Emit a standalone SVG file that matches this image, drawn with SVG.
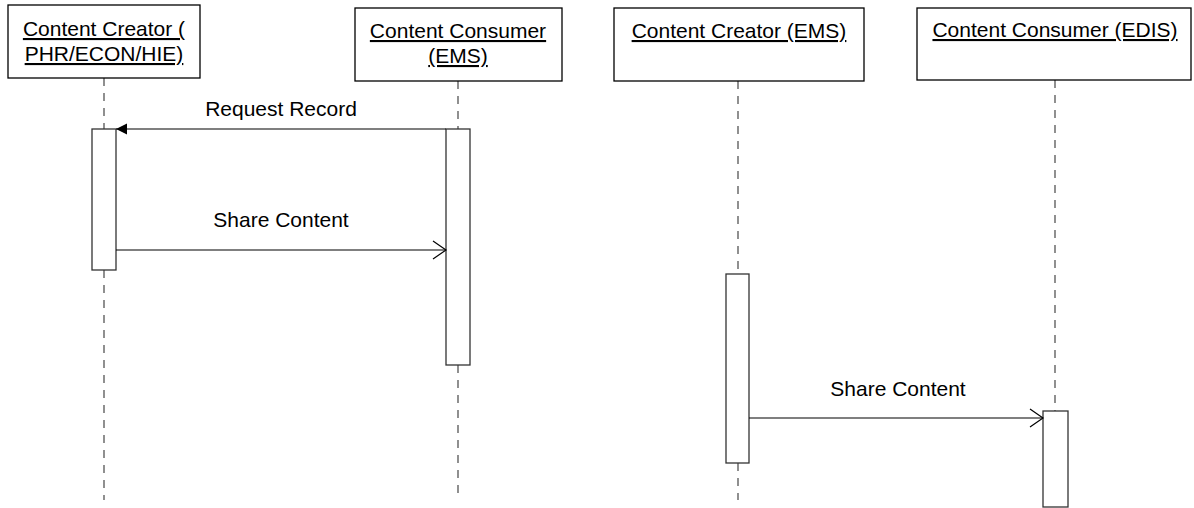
<svg xmlns="http://www.w3.org/2000/svg" width="1194" height="508" viewBox="0 0 1194 508">
<style>
.box{fill:#fff;stroke:#000;stroke-width:1.3}
.act{fill:#fff;stroke:#333;stroke-width:1.3}
.life{stroke:#555;stroke-width:1.3;stroke-dasharray:8,7;fill:none}
.t{font-family:"Liberation Sans",Arial,sans-serif;font-size:21px;fill:#000;text-anchor:middle}
.u{text-decoration:underline}
.msg{stroke:#000;stroke-width:1.2;fill:none}
</style>
<defs>
<marker id="filled" markerWidth="12" markerHeight="12" refX="11" refY="6" orient="auto" markerUnits="userSpaceOnUse">
<path d="M0,0.5 L11,6 L0,11.5 Z" fill="#000"/>
</marker>
<marker id="open" markerWidth="16" markerHeight="20" refX="14" refY="10" orient="auto" markerUnits="userSpaceOnUse">
<path d="M1,1 L14,10 L1,19" fill="none" stroke="#000" stroke-width="1.2"/>
</marker>
</defs>
<g id="lifelines">
<line class="life" x1="104" y1="78" x2="104" y2="129"/>
<line class="life" x1="104" y1="270" x2="104" y2="500"/>
<line class="life" x1="458" y1="81" x2="458" y2="129"/>
<line class="life" x1="458" y1="365" x2="458" y2="500"/>
<line class="life" x1="738" y1="81" x2="738" y2="274"/>
<line class="life" x1="738" y1="463" x2="738" y2="500"/>
<line class="life" x1="1055" y1="80" x2="1055" y2="411"/>
</g>
<g id="node-creator-phr">
<rect class="box" x="8" y="5" width="192" height="73"/>
<text class="t u" x="104" y="36">Content Creator (</text>
<text class="t u" x="104" y="61">PHR/ECON/HIE)</text>
<rect class="act" x="92" y="129" width="24" height="141"/>
</g>
<g id="node-consumer-ems">
<rect class="box" x="355" y="8" width="207" height="73"/>
<text class="t u" x="458" y="38">Content Consumer</text>
<text class="t u" x="458" y="63">(EMS)</text>
<rect class="act" x="446" y="129" width="24" height="236"/>
</g>
<g id="node-creator-ems">
<rect class="box" x="614" y="8" width="250" height="73"/>
<text class="t u" x="739" y="38">Content Creator (EMS)</text>
<rect class="act" x="726" y="274" width="23" height="189"/>
</g>
<g id="node-consumer-edis">
<rect class="box" x="917" y="8" width="274" height="72"/>
<text class="t u" x="1055" y="37">Content Consumer (EDIS)</text>
<rect class="act" x="1043" y="411" width="25" height="96"/>
</g>
<g id="connectors">
<line class="msg" x1="446" y1="129" x2="116" y2="129" marker-end="url(#filled)"/>
<text class="t" x="281" y="116">Request Record</text>
<line class="msg" x1="116" y1="250" x2="446" y2="250" marker-end="url(#open)"/>
<text class="t" x="281" y="227">Share Content</text>
<line class="msg" x1="749" y1="418" x2="1043" y2="418" marker-end="url(#open)"/>
<text class="t" x="898" y="396">Share Content</text>
</g>
</svg>
